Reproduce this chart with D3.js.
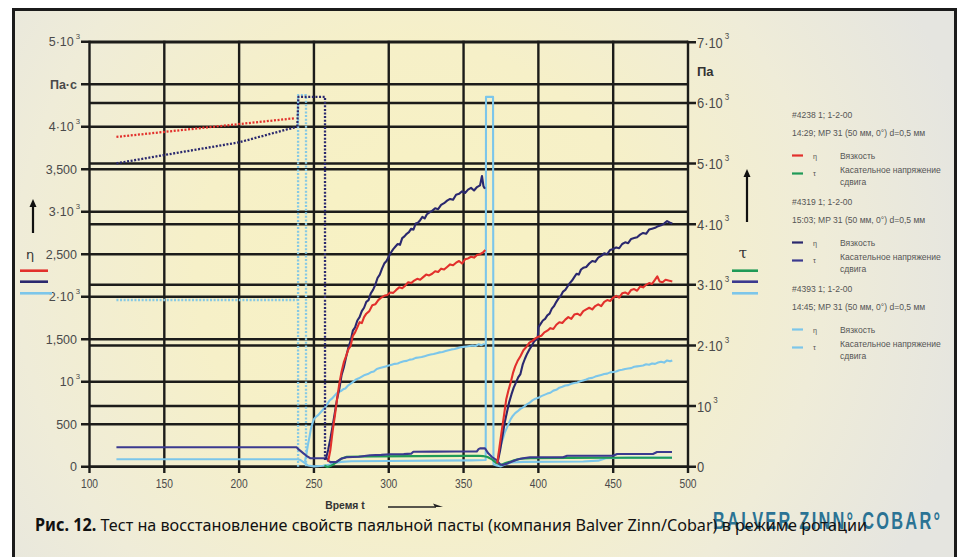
<!DOCTYPE html>
<html><head><meta charset="utf-8">
<script src="https://cdn.jsdelivr.net/npm/d3@7"></script>
<style>
html,body{margin:0;padding:0;background:#fff;}
svg{display:block;}
</style></head><body>
<svg id="chart" width="958" height="557"></svg>
<script>
// ---- axes ----
const timeTicks = [100, 150, 200, 250, 300, 350, 400, 450, 500];
const etaTicks = [0, 500, 1000, 1500, 2000, 2500, 3000, 3500, 4000, 4500, 5000];
const etaTickLabels = ["0", "500", "10^3", "1,500", "2·10^3", "2,500", "3·10^3", "3,500", "4·10^3", "Па·с", "5·10^3"];
const tauTicks = [0, 1000, 2000, 3000, 4000, 5000, 6000, 7000];
const tauTickLabels = ["0", "10^3", "2·10^3", "3·10^3", "4·10^3", "5·10^3", "6·10^3", "7·10^3"];
const tauUnit = "Па", tauUnitAt = 6500;

// ---- #4238: viscosity (Pa·s) and shear stress (Pa) ----
const eta4238Rest = [[118, 3880], [237.3, 4100]];
const eta4238Rec1 = [[259.5, 60], [261, 200], [262.5, 420], [264, 600], [265.5, 800], [267, 980], [268.5, 1120], [270, 1230], [271.5, 1300], [273, 1380], [274.5, 1420], [276, 1540], [277.5, 1580], [279, 1640], [280.5, 1700], [282, 1690], [283.5, 1760], [285, 1800], [287, 1830], [289, 1900], [291, 1910], [293, 1960], [295, 1990], [297, 2010], [299, 2020], [301, 2050], [303, 2045], [305, 2080], [307, 2110], [309, 2100], [311, 2130], [313, 2170], [315, 2160], [317, 2190], [319, 2210], [321, 2200], [323, 2230], [325, 2260], [327, 2250], [329, 2270], [331, 2300], [333, 2290], [335, 2330], [337, 2320], [339, 2350], [341, 2380], [343, 2370], [345, 2400], [347, 2420], [349, 2390], [351, 2440], [353, 2450], [355, 2470], [357, 2460], [359, 2490], [361, 2500], [363, 2520], [364.5, 2550]];
const eta4238Rec2 = [[372.5, 40], [374, 230], [375.5, 420], [377, 600], [378.5, 790], [380, 900], [381.5, 990], [383, 1100], [384.5, 1180], [386, 1240], [388, 1300], [390, 1370], [392, 1410], [394, 1460], [396, 1480], [398, 1510], [400, 1530], [402, 1540], [404, 1580], [406, 1600], [408, 1630], [410, 1620], [412, 1670], [414, 1700], [416, 1690], [418, 1730], [420, 1760], [422, 1740], [424, 1790], [426, 1800], [428, 1780], [430, 1830], [432, 1850], [434, 1870], [436, 1850], [438, 1890], [440, 1910], [442, 1890], [444, 1940], [446, 1960], [448, 1950], [450, 1990], [452, 2010], [454, 1990], [456, 2040], [458, 2050], [460, 2030], [462, 2080], [464, 2090], [466, 2070], [468, 2120], [470, 2110], [472, 2140], [474, 2160], [476, 2150], [478, 2200], [479.5, 2240], [481, 2180], [483, 2170], [485, 2200], [487, 2190], [489.5, 2180]];
const tau4238 = [[257, 20], [259, -5], [261, 10], [263, 40], [266, 90], [269, 140], [272, 165], [290, 170], [320, 175], [350, 178], [360, 180], [363, 175], [366, 160], [369, 120], [372, 60], [375, 30], [378, 60], [383, 100], [388, 130], [395, 140], [420, 145], [450, 148], [489.3, 148]];

// ---- #4319 ----
const eta4319Rest = [[118, 3569], [150, 3667], [200, 3816], [238.7, 4000]];
const tau4319Shear = [[238.9, 5610], [239.6, 6100], [257.4, 6100], [257.4, 100]];
const eta4319Rec1 = [[258, 90], [259.5, 200], [261, 330], [262.5, 480], [264, 640], [265.5, 800], [267, 920], [268.5, 1080], [270, 1170], [271.5, 1290], [273, 1400], [274.5, 1480], [276, 1600], [277.5, 1640], [279, 1720], [280.5, 1760], [282, 1830], [283.5, 1870], [285, 1940], [286.5, 1960], [288, 2040], [289.5, 2080], [291, 2140], [292.5, 2220], [294, 2260], [295.5, 2330], [297, 2390], [298.5, 2420], [300, 2470], [301.5, 2520], [303, 2560], [304.5, 2590], [306, 2620], [307.5, 2610], [309, 2690], [310.5, 2710], [312, 2740], [313.5, 2760], [315, 2800], [316.5, 2790], [318, 2860], [319.5, 2870], [321, 2900], [322.5, 2940], [324, 2920], [325.5, 2970], [327, 2990], [329, 3010], [331, 3040], [333, 3030], [335, 3080], [337, 3100], [339, 3130], [341, 3150], [343, 3140], [345, 3200], [347, 3210], [349, 3240], [351, 3220], [353, 3260], [355, 3280], [357, 3250], [359, 3290], [361, 3310], [362.3, 3420], [363.3, 3300], [364.3, 3270]];
const eta4319Rec2 = [[373, 70], [374.5, 200], [376, 360], [377.5, 520], [379, 640], [380.5, 760], [382, 850], [383.5, 930], [385, 990], [386.5, 1050], [388, 1090], [389.5, 1200], [391, 1270], [392.5, 1330], [394, 1380], [395.5, 1420], [397, 1470], [398.5, 1500], [399.5, 1500], [400, 1640], [401.5, 1680], [403, 1720], [404.5, 1740], [406, 1780], [407.5, 1800], [409, 1860], [410.5, 1890], [412, 1940], [413.5, 1980], [415, 2010], [416.5, 2060], [418, 2080], [419.5, 2120], [421, 2160], [422.5, 2190], [424, 2230], [425.5, 2270], [427, 2260], [428.5, 2320], [430, 2340], [432, 2350], [434, 2390], [436, 2420], [438, 2410], [440, 2460], [442, 2480], [444, 2510], [446, 2500], [448, 2550], [450, 2560], [452, 2580], [454, 2570], [456, 2620], [458, 2640], [460, 2630], [462, 2680], [464, 2690], [466, 2700], [468, 2730], [470, 2750], [472, 2740], [474, 2790], [476, 2800], [478, 2810], [480, 2830], [482, 2840], [484, 2860], [486, 2890], [488, 2870], [489.5, 2860]];
const tau4319 = [[118, 320], [238.5, 320], [239.5, 290], [241, 260], [243, 220], [245, 180], [247.5, 140], [258.5, 140], [259.5, 100], [261, 75], [265, 80], [268, 130], [271.9, 155], [280, 165], [287.5, 190], [295, 195], [300.8, 205], [310, 208], [315, 215], [316.4, 247], [330, 248], [345, 250], [358.8, 250], [360, 290], [361, 303], [364.3, 305], [366.5, 220], [369, 160], [372, 110], [374.3, 40], [376, 28], [378.8, 50], [383, 90], [386, 120], [389.7, 139], [394.4, 155], [416.5, 155], [419.2, 181], [449.9, 181], [452.6, 209], [476.6, 209], [479.3, 242], [489.3, 242]];

// ---- #4393 ----
const eta4393Rest = [[118, 1961], [239, 1961]];
const tau4393Shear1 = [[239.4, 0], [239.4, 6130], [244.7, 6130], [244.7, 0]];
const eta4393Rec1 = [[244, 60], [245, 150], [246, 260], [247, 350], [248, 450], [249, 510], [250, 560], [251.5, 590], [253, 610], [254.5, 640], [256, 670], [257.5, 700], [259, 740], [260.5, 780], [262, 800], [263.5, 830], [265, 860], [266.5, 880], [268, 890], [269.5, 910], [271, 920], [272.5, 950], [274, 970], [275.5, 990], [277, 1010], [278.5, 1030], [280, 1040], [282, 1060], [284, 1080], [286, 1090], [288, 1110], [290, 1120], [292, 1150], [294, 1160], [296, 1170], [298, 1180], [300, 1190], [302, 1200], [304, 1210], [306, 1215], [308, 1230], [310, 1240], [312, 1245], [314, 1260], [316, 1265], [318, 1280], [320, 1285], [322, 1290], [324, 1300], [326, 1310], [328, 1320], [330, 1325], [332, 1335], [334, 1345], [336, 1350], [338, 1360], [340, 1370], [342, 1380], [344, 1385], [346, 1395], [348, 1405], [350, 1410], [352, 1415], [354, 1420], [356, 1425], [358, 1420], [360, 1440], [362, 1430], [364, 1445]];
const eta4393Rec2 = [[372.5, 60], [373.5, 150], [374.5, 220], [375.5, 290], [376.5, 340], [377.5, 400], [378.5, 440], [380, 500], [381.5, 560], [383, 600], [384.5, 630], [386, 650], [388, 680], [390, 700], [392, 730], [394, 750], [396, 780], [398, 800], [400, 810], [402, 830], [404, 845], [406, 860], [408, 870], [410, 895], [412, 905], [414, 930], [416, 940], [418, 955], [420, 960], [422, 975], [424, 985], [426, 990], [428, 1005], [430, 1015], [432, 1025], [434, 1040], [436, 1045], [438, 1060], [440, 1070], [442, 1080], [444, 1090], [446, 1095], [448, 1110], [450, 1115], [452, 1120], [454, 1135], [456, 1140], [458, 1150], [460, 1155], [462, 1160], [464, 1175], [466, 1180], [468, 1185], [470, 1190], [472, 1205], [474, 1200], [476, 1215], [478, 1210], [480, 1225], [482, 1235], [484, 1225], [486, 1250], [488, 1240], [489.5, 1250]];
const tau4393 = [[118, 122], [239, 122], [241, 110], [244, 60], [246, 20], [250, 5], [256, 15], [260, 30], [264, 60], [268, 80], [275, 90], [300, 95], [330, 100], [355, 105], [364.8, 110], [365, 6100], [369.7, 6100], [370, 40], [372, 20], [375, 5], [378, 40], [382, 70], [390, 80], [430, 85], [440, 100], [445, 140], [460, 150], [489.3, 150]];

// ---- legend text ----
const legendGroups = [
  {id: "#4238 1; 1-2-00", run: "14:29; MP 31 (50 мм, 0°) d=0,5 мм", eta: "red", tau: "green"},
  {id: "#4319 1; 1-2-00", run: "15:03; MP 31 (50 мм, 0°) d=0,5 мм", eta: "navy", tau: "navyTau"},
  {id: "#4393 1; 1-2-00", run: "14:45; MP 31 (50 мм, 0°) d=0,5 мм", eta: "sky", tau: "sky"}
];
const etaName = "Вязкость";
const tauName = ["Касательное напряжение", "сдвига"];
const captionLead = "Рис. 12.";
const captionText = " Тест на восстановление свойств паяльной пасты (компания Balver Zinn/Cobar) в режиме ротации";
const brand = "BALVER ZINN° COBAR°";

// ---- drawing ----
const colors = {red: "#e2302c", green: "#1f9a57", navy: "#2a286e", navyTau: "#3b3a8f", sky: "#7cc6ea", skyDot: "#86c9e4"};
const svg = d3.select("#chart");
const defs = svg.append("defs");

const bg = defs.append("radialGradient").attr("id", "bg")
  .attr("gradientUnits", "userSpaceOnUse").attr("cx", 420).attr("cy", 270).attr("r", 560);
[[0, "#f8f2c2"], [0.4, "#f6f0c8"], [0.72, "#efecd8"], [1, "#e5e5e0"]]
  .forEach(([o, c]) => bg.append("stop").attr("offset", o).attr("stop-color", c));

svg.append("rect").attr("width", 958).attr("height", 557).attr("fill", "#fff");
svg.append("rect").attr("x", 13.5).attr("y", 9.5).attr("width", 942).attr("height", 560)
  .attr("fill", "url(#bg)").attr("stroke", "#1b1b1b").attr("stroke-width", 3);

const x = d3.scaleLinear().domain([100, 500]).range([89.5, 688]);
const yEta = d3.scaleLinear().domain([0, 5000]).range([466.7, 41.7]);
const yTau = d3.scaleLinear().domain([0, 7000]).range([466.7, 42.3]);

const gridColor = "#1c1c1a", gridW = 2.4;
const grid = svg.append("g").attr("stroke", gridColor).attr("stroke-width", gridW);
etaTicks.forEach(v => grid.append("line").attr("x1", 81).attr("x2", x(500)).attr("y1", yEta(v)).attr("y2", yEta(v)));
tauTicks.forEach(v => grid.append("line").attr("x1", x(100)).attr("x2", 696).attr("y1", yTau(v)).attr("y2", yTau(v)));
timeTicks.forEach(t => grid.append("line").attr("x1", x(t)).attr("x2", x(t)).attr("y1", yEta(5000) - 1).attr("y2", 473));

function supLabel(sel, str) {
  const parts = str.split("^");
  sel.append("tspan").text(parts[0]);
  if (parts[1]) sel.append("tspan").attr("font-size", "0.62em").attr("dy", "-0.9em").attr("dx", "0.25em").text(parts[1]);
}
// condensed text: horizontally squeezed sans
function narrowText(px, py, sx, anchor) {
  return svg.append("text").attr("transform", `translate(${px},${py}) scale(${sx},1)`)
    .attr("text-anchor", anchor || "start");
}

const sans = "'Liberation Sans',Arial,sans-serif";
const axisGray = "#4a4a4a";
etaTicks.forEach((v, i) => {
  const lab = etaTickLabels[i];
  const t = svg.append("text").attr("x", lab.includes("^") ? 80 : 77).attr("y", yEta(v) + 4.5)
    .attr("text-anchor", "end").attr("font-family", sans)
    .attr("font-size", 12.5).attr("fill", axisGray)
    .attr("font-weight", lab === "Па·с" ? "bold" : "normal");
  supLabel(t, lab);
});
tauTicks.forEach((v, i) => {
  const t = narrowText(697, yTau(v) + 5.5, 0.86).attr("font-family", sans).attr("font-size", 15).attr("fill", axisGray);
  supLabel(t, tauTickLabels[i]);
});
svg.append("text").attr("x", 697).attr("y", yTau(tauUnitAt) + 3).attr("font-family", sans)
  .attr("font-size", 13).attr("font-weight", "bold").attr("fill", "#333").text(tauUnit);

timeTicks.forEach(t => narrowText(x(t), 488, 0.82, "middle")
  .attr("font-family", sans).attr("font-size", 12.5).attr("fill", axisGray).text(t));

// time axis title with arrow
narrowText(345, 508.5, 0.9, "middle").attr("font-family", sans).attr("font-size", 11.5)
  .attr("font-weight", "bold").attr("fill", "#333").text("Время t");
svg.append("line").attr("x1", 388).attr("x2", 436).attr("y1", 507).attr("y2", 507).attr("stroke", "#222").attr("stroke-width", 1.6);
svg.append("path").attr("d", "M443,507 L433,503.5 L435,507 Z").attr("fill", "#222");

// series
const lineEta = d3.line().x(d => x(d[0])).y(d => yEta(d[1]));
const lineTau = d3.line().x(d => x(d[0])).y(d => yTau(d[1]));
const plot = svg.append("g").attr("fill", "none").attr("stroke-linejoin", "round");
function draw(data, gen, color, dotted) {
  const p = plot.append("path").attr("d", gen(data)).attr("stroke", color)
    .attr("stroke-width", dotted ? 2.3 : 2.1);
  if (dotted) p.attr("stroke-dasharray", "2 1.6");
}
draw(tau4393, lineTau, colors.sky, false);
draw(tau4393Shear1, lineTau, colors.skyDot, true);
draw(eta4393Rest, lineEta, colors.skyDot, true);
draw(eta4393Rec1, lineEta, colors.sky, false);
draw(eta4393Rec2, lineEta, colors.sky, false);
draw(tau4238, lineTau, colors.green, false);
draw(tau4319, lineTau, colors.navyTau, false);
draw(eta4319Rest, lineEta, colors.navy, true);
draw(tau4319Shear, lineTau, colors.navy, true);
draw(eta4319Rec1, lineEta, colors.navy, false);
draw(eta4319Rec2, lineEta, colors.navy, false);
draw(eta4238Rest, lineEta, colors.red, true);
draw(eta4238Rec1, lineEta, colors.red, false);
draw(eta4238Rec2, lineEta, colors.red, false);

// side keys: eta (left) and tau (right)
function arrowUp(cx, y0, y1) {
  svg.append("line").attr("x1", cx).attr("x2", cx).attr("y1", y0).attr("y2", y1 + 6).attr("stroke", "#111").attr("stroke-width", 2.2);
  svg.append("path").attr("d", `M${cx},${y1} L${cx - 3.5},${y1 + 8} L${cx + 3.5},${y1 + 8} Z`).attr("fill", "#111");
}
arrowUp(33, 233, 199);
arrowUp(747, 222, 169);
svg.append("text").attr("x", 30).attr("y", 259).attr("text-anchor", "middle").attr("font-family", "'DejaVu Sans',sans-serif")
  .attr("font-size", 13).attr("fill", "#333").text("η");
svg.append("text").attr("x", 743).attr("y", 258).attr("text-anchor", "middle").attr("font-family", "'DejaVu Serif',serif")
  .attr("font-size", 15).attr("fill", "#333").text("τ");
const keyRows = [270.7, 281.7, 293.3];
legendGroups.forEach((g, i) => {
  svg.append("line").attr("x1", 20).attr("x2", i === 2 ? 52 : 48).attr("y1", keyRows[i]).attr("y2", keyRows[i])
    .attr("stroke", colors[g.eta]).attr("stroke-width", 2.6);
  svg.append("line").attr("x1", 732).attr("x2", 758).attr("y1", keyRows[i]).attr("y2", keyRows[i])
    .attr("stroke", colors[g.tau]).attr("stroke-width", 2.6);
});

// legend block
const legTop = [118, 205, 292];
const legSx = 0.9;
function legText(px, py, str, size) {
  narrowText(px, py, legSx).attr("font-family", sans).attr("font-size", size || 9.5).attr("fill", "#555").text(str);
}
legendGroups.forEach((g, i) => {
  const y0 = legTop[i];
  legText(792, y0, g.id);
  legText(792, y0 + 18, g.run);
  svg.append("line").attr("x1", 792).attr("x2", 803).attr("y1", y0 + 37.5).attr("y2", y0 + 37.5)
    .attr("stroke", colors[g.eta]).attr("stroke-width", 2.2);
  legText(813, y0 + 40.5, "η", 8);
  legText(840, y0 + 40.5, etaName);
  svg.append("line").attr("x1", 792).attr("x2", 803).attr("y1", y0 + 55.5).attr("y2", y0 + 55.5)
    .attr("stroke", colors[g.tau]).attr("stroke-width", 2.2);
  legText(813, y0 + 58, "τ", 8);
  legText(840, y0 + 55, tauName[0]);
  legText(840, y0 + 67, tauName[1]);
});

// brand mark and caption (the caption runs over the brand mark)
const brandSx = 0.68;
narrowText(713, 529, brandSx).attr("font-family", sans)
  .attr("font-size", 24).attr("font-weight", "bold").attr("fill", "#2b7394")
  .attr("textLength", 227 / brandSx).attr("lengthAdjust", "spacing").text(brand);
const cap = svg.append("text").attr("x", 35).attr("y", 531).attr("font-family", "'Noto Sans','Open Sans',sans-serif")
  .attr("font-size", 17).attr("fill", "#111").attr("textLength", 832).attr("lengthAdjust", "spacingAndGlyphs");
cap.append("tspan").attr("font-weight", "bold").text(captionLead);
cap.append("tspan").text(captionText);
</script>
</body></html>
